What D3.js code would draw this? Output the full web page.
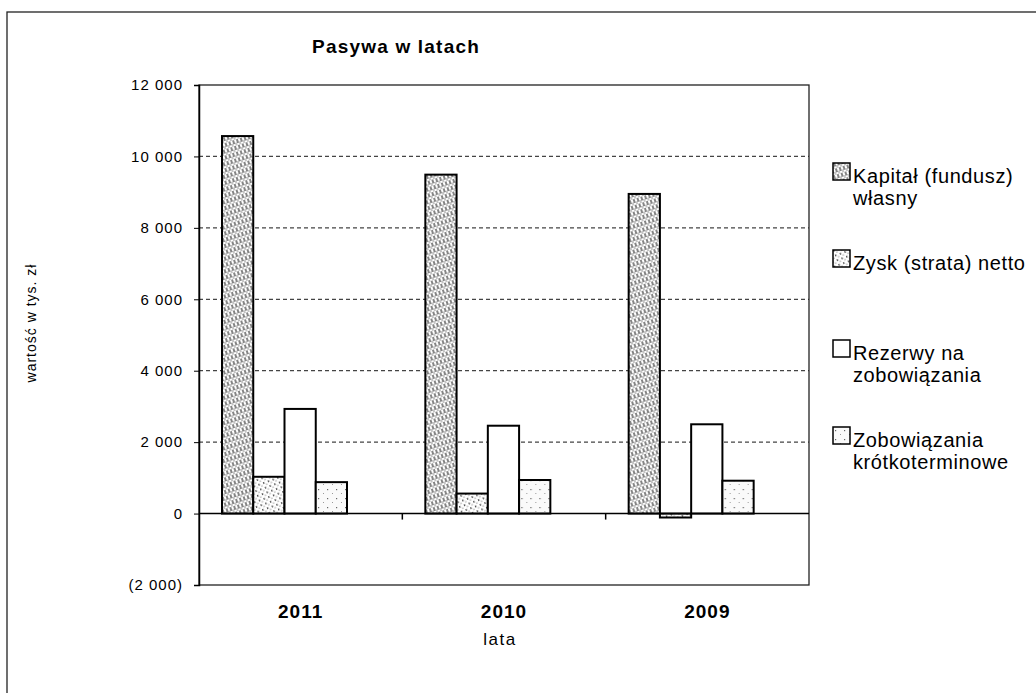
<!DOCTYPE html>
<html>
<head>
<meta charset="utf-8">
<script src="https://cdn.jsdelivr.net/npm/d3@7"></script>
<style>
    body { margin: 0; background: #fff; }
    text { font-family: "Liberation Sans", Arial, sans-serif; fill: #000; }
</style>
</head>
<body>
<div id="chart"></div>
<script>
// Dane
const years = ["2011", "2010", "2009"];
const seriesKeys = ["kapital", "zysk", "rezerwy", "zobowiazania"];
const legendLabels = [
    ["Kapitał (fundusz)", "własny"],
    ["Zysk (strata) netto"],
    ["Rezerwy na", "zobowiązania"],
    ["Zobowiązania", "krótkoterminowe"]
];
const kapital = [10570, 9490, 8950];
const zysk = [1030, 560, -110];
const rezerwy = [2930, 2460, 2500];
const zobowiazania = [880, 940, 920];
const yTicks = [-2000, 0, 2000, 4000, 6000, 8000, 10000, 12000];

const values = { kapital, zysk, rezerwy, zobowiazania };

const width = 1036, height = 693;
const plotLeft = 199, plotRight = 809, plotTop = 85, plotBottom = 585;

const svg = d3.select("#chart")
    .append("svg")
    .attr("width", width)
    .attr("height", height);

// Wzory wypełnienia
const defs = svg.append("defs");

const hatch = defs.append("pattern")
    .attr("id", "p-kapital")
    .attr("patternUnits", "userSpaceOnUse")
    .attr("width", 4).attr("height", 6)
    .attr("patternTransform", "rotate(-18)");
hatch.append("rect").attr("width", 4).attr("height", 6).attr("fill", "#fff");
hatch.append("line").attr("x1", 1).attr("y1", 0).attr("x2", 1).attr("y2", 4)
    .attr("stroke", "#333").attr("stroke-width", 1.2);
hatch.append("line").attr("x1", 3).attr("y1", 3).attr("x2", 3).attr("y2", 6)
    .attr("stroke", "#888").attr("stroke-width", 1);

const dots = defs.append("pattern")
    .attr("id", "p-zysk")
    .attr("patternUnits", "userSpaceOnUse")
    .attr("width", 5).attr("height", 5)
    .attr("patternTransform", "rotate(-20)");
dots.append("rect").attr("width", 5).attr("height", 5).attr("fill", "#fff");
dots.append("rect").attr("x", 0).attr("y", 0).attr("width", 1.3).attr("height", 2).attr("fill", "#555");
dots.append("rect").attr("x", 2.5).attr("y", 2.5).attr("width", 1).attr("height", 1.5).attr("fill", "#999");

const sparse = defs.append("pattern")
    .attr("id", "p-zobowiazania")
    .attr("patternUnits", "userSpaceOnUse")
    .attr("width", 9).attr("height", 9);
sparse.append("rect").attr("width", 9).attr("height", 9).attr("fill", "#fafafa");
sparse.append("rect").attr("x", 2).attr("y", 3).attr("width", 1.2).attr("height", 1.2).attr("fill", "#666");
sparse.append("rect").attr("x", 7).attr("y", 7).attr("width", 1).attr("height", 1).attr("fill", "#999");

const fills = {
    kapital: "url(#p-kapital)",
    zysk: "url(#p-zysk)",
    rezerwy: "#fff",
    zobowiazania: "url(#p-zobowiazania)"
};

// Ramka zewnętrzna
svg.append("rect")
    .attr("x", 7).attr("y", 12)
    .attr("width", 1100).attr("height", 800)
    .attr("fill", "none")
    .attr("stroke", "#222")
    .attr("stroke-width", 1.3);

// Skale
const y = d3.scaleLinear().domain([-2000, 12000]).range([plotBottom, plotTop]);
const x0 = d3.scaleBand().domain(years).range([plotLeft, plotRight]).padding(0);
const x1 = d3.scaleBand().domain(seriesKeys).range([23, 23 + 125]);

// Linie siatki
svg.append("g")
    .selectAll("line")
    .data(yTicks.filter(d => d > 0 && d < 12000))
    .join("line")
    .attr("x1", plotLeft).attr("x2", plotRight)
    .attr("y1", d => y(d)).attr("y2", d => y(d))
    .attr("stroke", "#444")
    .attr("stroke-width", 1.2)
    .attr("stroke-dasharray", "4,3");

// Obszar wykresu
svg.append("rect")
    .attr("x", plotLeft).attr("y", plotTop)
    .attr("width", plotRight - plotLeft).attr("height", plotBottom - plotTop)
    .attr("fill", "none")
    .attr("stroke", "#222")
    .attr("stroke-width", 1.3);

// Słupki
const groups = svg.append("g")
    .selectAll("g")
    .data(years)
    .join("g")
    .attr("transform", d => `translate(${x0(d)},0)`);

groups.selectAll("rect")
    .data((d, i) => seriesKeys.map(k => ({ key: k, value: values[k][i] })))
    .join("rect")
    .attr("x", d => x1(d.key))
    .attr("y", d => y(Math.max(0, d.value)))
    .attr("width", x1.bandwidth())
    .attr("height", d => Math.abs(y(d.value) - y(0)))
    .attr("fill", d => fills[d.key])
    .attr("stroke", "#000")
    .attr("stroke-width", 2);

// Linia zera z podziałką kategorii
svg.append("line")
    .attr("x1", plotLeft).attr("x2", plotRight)
    .attr("y1", y(0)).attr("y2", y(0))
    .attr("stroke", "#000")
    .attr("stroke-width", 1.6);

svg.append("g")
    .selectAll("line")
    .data(years.slice(1))
    .join("line")
    .attr("x1", d => x0(d)).attr("x2", d => x0(d))
    .attr("y1", y(0)).attr("y2", y(0) + 6)
    .attr("stroke", "#000")
    .attr("stroke-width", 1.5);

// Oś Y
const fmt = d3.format(",");
const yAxis = svg.append("g")
    .attr("transform", `translate(${plotLeft},0)`)
    .call(d3.axisLeft(y)
        .tickValues(yTicks)
        .tickSize(5)
        .tickPadding(11)
        .tickFormat(d => {
            const s = fmt(Math.abs(d)).replace(/,/g, " ");
            return d < 0 ? `(${s})` : s;
        }));
yAxis.select(".domain").attr("stroke", "#000").attr("stroke-width", 1.5);
yAxis.selectAll(".tick line").attr("stroke", "#000");
yAxis.selectAll(".tick text")
    .style("font-family", "'Liberation Sans', Arial, sans-serif")
    .style("font-size", "15px")
    .style("letter-spacing", "1px")
    .attr("fill", "#000");

// Etykiety lat
const xAxis = svg.append("g")
    .attr("transform", `translate(0,${plotBottom})`)
    .call(d3.axisBottom(x0).tickSize(0).tickPadding(20));
xAxis.select(".domain").remove();
xAxis.selectAll(".tick text")
    .style("font-family", "'Liberation Sans', Arial, sans-serif")
    .style("font-size", "19px")
    .style("font-weight", "bold")
    .style("letter-spacing", "1px")
    .attr("fill", "#000");

// Tytuły
svg.append("text")
    .attr("x", 396).attr("y", 53)
    .attr("text-anchor", "middle")
    .style("font-size", "19px")
    .style("font-weight", "bold")
    .style("letter-spacing", "1.2px")
    .text("Pasywa w latach");

svg.append("text")
    .attr("x", 500).attr("y", 645)
    .attr("text-anchor", "middle")
    .style("font-size", "17px")
    .style("letter-spacing", "1.5px")
    .text("lata");

svg.append("text")
    .attr("transform", "translate(36,323) rotate(-90)")
    .attr("text-anchor", "middle")
    .style("font-size", "14px")
    .style("letter-spacing", "1px")
    .text("wartość w tys. zł");

// Legenda
const legendTops = [163, 250, 340, 427];
const legend = svg.append("g")
    .selectAll("g")
    .data(seriesKeys)
    .join("g")
    .attr("transform", (d, i) => `translate(833,${legendTops[i]})`);

legend.append("rect")
    .attr("width", 17).attr("height", 17)
    .attr("fill", d => fills[d])
    .attr("stroke", "#000")
    .attr("stroke-width", 1.5);

legend.append("text")
    .attr("x", 20)
    .attr("y", 20)
    .style("font-size", "20px")
    .style("letter-spacing", "0.6px")
    .selectAll("tspan")
    .data((d, i) => legendLabels[i])
    .join("tspan")
    .attr("x", 20)
    .attr("dy", (d, i) => i === 0 ? 0 : 22)
    .text(d => d);
</script>
</body>
</html>
